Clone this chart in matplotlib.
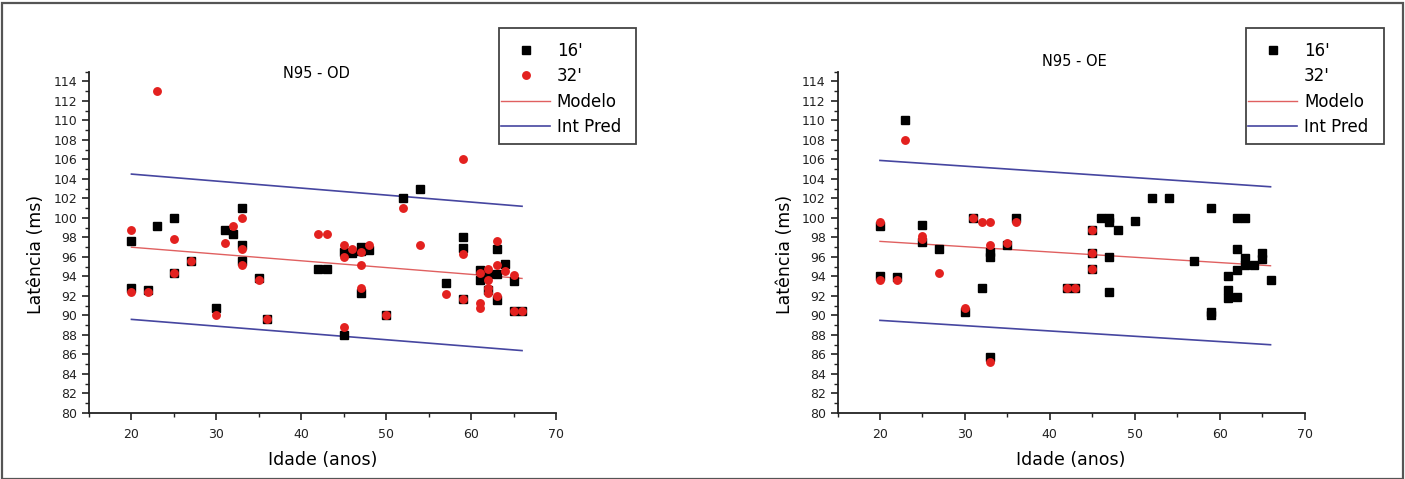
import matplotlib
matplotlib.use('Agg')
import matplotlib.pyplot as plt
from matplotlib.lines import Line2D
from matplotlib.patches import Rectangle
from matplotlib.ticker import MultipleLocator

plt.rcParams['font.family'] = ['DejaVu Sans']

# ---------------- data: N95 - OD ----------------
od_age_16 = [20, 20, 22, 23, 25, 25, 27, 30, 31, 32, 33, 33, 33, 35, 36, 42, 43, 45, 45, 46,
             47, 47, 47, 48, 50, 52, 54, 57, 59, 59, 59, 61, 61, 62, 62, 63, 63, 63, 64, 65,
             65, 66]
od_lat_16 = [97.6, 92.8, 92.6, 99.2, 100.0, 94.4, 95.6, 90.8, 98.8, 98.4, 101.0, 97.2, 95.6,
             93.8, 89.6, 94.8, 94.8, 88.0, 96.5, 96.4, 97.0, 96.6, 92.3, 96.7, 90.0, 102.0,
             103.0, 93.3, 98.0, 96.9, 91.7, 94.7, 93.6, 94.3, 92.6, 96.8, 94.3, 91.6, 95.3,
             93.5, 90.5, 90.5]
od_age_32 = [20, 20, 22, 23, 25, 25, 27, 30, 31, 32, 33, 33, 33, 35, 36, 42, 43, 45, 45, 45,
             46, 47, 47, 47, 48, 50, 52, 54, 57, 59, 59, 59, 61, 61, 61, 62, 62, 62, 62, 63,
             63, 63, 64, 65, 65, 66]
od_lat_32 = [98.8, 92.4, 92.4, 113.0, 97.8, 94.4, 95.6, 90.0, 97.4, 99.2, 100.0, 96.8, 95.2,
             93.6, 89.6, 98.4, 98.4, 97.2, 96.0, 88.8, 96.8, 96.5, 95.2, 92.8, 97.2, 90.0,
             101.0, 97.2, 92.2, 106.0, 96.3, 91.7, 94.4, 91.3, 90.8, 94.8, 93.6, 92.8, 92.3,
             97.6, 95.2, 92.0, 94.6, 94.2, 90.5, 90.5]
od_fit_age = [20, 66]
od_model = [97.0, 93.8]
od_upper = [104.5, 101.2]
od_lower = [89.6, 86.4]

# ---------------- data: N95 - OE ----------------
oe_age_16 = [20, 20, 22, 23, 25, 25, 27, 30, 31, 32, 33, 33, 33, 35, 36, 42, 43, 45, 45, 45,
             46, 47, 47, 47, 47, 48, 50, 52, 54, 57, 59, 59, 59, 61, 61, 61, 62, 62, 62, 62,
             63, 63, 63, 64, 65, 65, 66]
oe_lat_16 = [99.2, 94.0, 93.9, 110.0, 99.3, 97.5, 96.8, 90.4, 100.0, 92.8, 96.5, 96.0, 85.7,
             97.2, 100.0, 92.8, 92.8, 98.8, 96.4, 94.8, 100.0, 100.0, 99.6, 96.0, 92.4, 98.8,
             99.7, 102.0, 102.0, 95.6, 101.0, 90.4, 90.0, 94.0, 92.6, 91.8, 100.0, 96.8, 94.7,
             91.9, 100.0, 95.9, 95.2, 95.2, 96.4, 95.8, 93.6]
oe_age_32 = [20, 20, 22, 23, 25, 25, 27, 30, 31, 32, 33, 33, 33, 35, 36, 42, 43, 45, 45, 45]
oe_lat_32 = [99.6, 93.6, 93.6, 108.0, 98.2, 97.8, 94.4, 90.8, 100.0, 99.6, 99.6, 97.2, 85.2,
             97.4, 99.6, 92.8, 92.8, 98.8, 96.4, 94.8]
oe_fit_age = [20, 66]
oe_model = [97.6, 95.1]
oe_upper = [105.9, 103.2]
oe_lower = [89.5, 87.0]

titles = ["N95 - OD", "N95 - OE"]
legend_labels = ["16'", "32'", "Modelo", "Int Pred"]

BLACK = '#000000'
RED = '#e3211f'
MODEL_C = '#e06060'
PRED_C = '#4646a0'

W, H = 1405, 479
fig = plt.figure(figsize=(W / 100, H / 100), dpi=100)

# outer frame
fig.patches.append(Rectangle((2 / W, 0.0), 1 - 4 / W, 1 - 3 / H, transform=fig.transFigure,
                             fill=False, edgecolor='#555555', linewidth=1.6))

panels = [
    dict(left=89, title=titles[0], title_x=316.5, title_y=73,
         a16=od_age_16, l16=od_lat_16, a32=od_age_32, l32=od_lat_32,
         fa=od_fit_age, m=od_model, u=od_upper, lo=od_lower,
         box=(499, 27.7, 636, 144), show32=True),
    dict(left=837.5, title=titles[1], title_x=1074.7, title_y=62,
         a16=oe_age_16, l16=oe_lat_16, a32=oe_age_32, l32=oe_lat_32,
         fa=oe_fit_age, m=oe_model, u=oe_upper, lo=oe_lower,
         box=(1246.3, 27.7, 1383.5, 144), show32=False),
]

ax_w = 467 / W
ax_b = 1 - 413 / H
ax_h = (413 - 71.7) / H

for p in panels:
    ax = fig.add_axes([p['left'] / W, ax_b, ax_w, ax_h])
    ax.plot(p['a16'], p['l16'], linestyle='none', marker='s', markersize=6.2,
            color=BLACK, zorder=3)
    ax.plot(p['a32'], p['l32'], linestyle='none', marker='o', markersize=6.4,
            color=RED, markeredgewidth=0, zorder=4)
    ax.plot(p['fa'], p['m'], color=MODEL_C, linewidth=1.0, zorder=2)
    ax.plot(p['fa'], p['u'], color=PRED_C, linewidth=1.2, zorder=2)
    ax.plot(p['fa'], p['lo'], color=PRED_C, linewidth=1.2, zorder=2)

    ax.set_xlim(15, 70)
    ax.set_ylim(80, 115)
    ax.xaxis.set_major_locator(MultipleLocator(10))
    ax.xaxis.set_minor_locator(MultipleLocator(5))
    ax.yaxis.set_minor_locator(MultipleLocator(1))
    ax.set_yticks(range(80, 115, 2))
    for s in ('top', 'right'):
        ax.spines[s].set_visible(False)
    for s in ('left', 'bottom'):
        ax.spines[s].set_linewidth(1.3)
        ax.spines[s].set_color('#222222')
    ax.tick_params(which='major', direction='out', length=5, width=1.2,
                   labelsize=9, colors='#222222')
    ax.tick_params(axis='y', which='major', pad=3.5)
    ax.tick_params(axis='x', which='major', pad=6)
    ax.tick_params(which='minor', direction='out', length=3, width=1.0, colors='#222222')
    ax.set_xlabel('Idade (anos)', fontsize=12.5, labelpad=7)
    ax.set_ylabel('Latência (ms)', fontsize=12.5)
    ax.yaxis.set_label_coords(-0.094, 0.466)

    fig.text(p['title_x'] / W, 1 - p['title_y'] / H, p['title'], ha='center', va='center',
             fontsize=10.5)

    x0, y0, x1, y1 = p['box']
    fig.patches.append(Rectangle((x0 / W, 1 - y1 / H), (x1 - x0) / W, (y1 - y0) / H,
                                 transform=fig.transFigure, fill=False,
                                 edgecolor='#444444', linewidth=1.3, zorder=5))

    h16 = Line2D([], [], linestyle='none', marker='s', markersize=6.2, color=BLACK)
    if p['show32']:
        h32 = Line2D([], [], linestyle='none', marker='o', markersize=6.4, color=RED,
                     markeredgewidth=0)
    else:
        h32 = Line2D([], [], linestyle='none', marker='none')
    hm = Line2D([], [], color=MODEL_C, linewidth=1.0)
    hp = Line2D([], [], color=PRED_C, linewidth=1.2)
    ax.legend([h16, h32, hm, hp], legend_labels, loc='upper left',
              bbox_to_anchor=((x0 + 2) / W, 1 - (y0 + 14) / H),
              bbox_transform=fig.transFigure, fontsize=12, frameon=False,
              borderpad=0, labelspacing=0.45, handlelength=2.95, handletextpad=0.4,
              borderaxespad=0)

fig.savefig('out.png', dpi=100)
